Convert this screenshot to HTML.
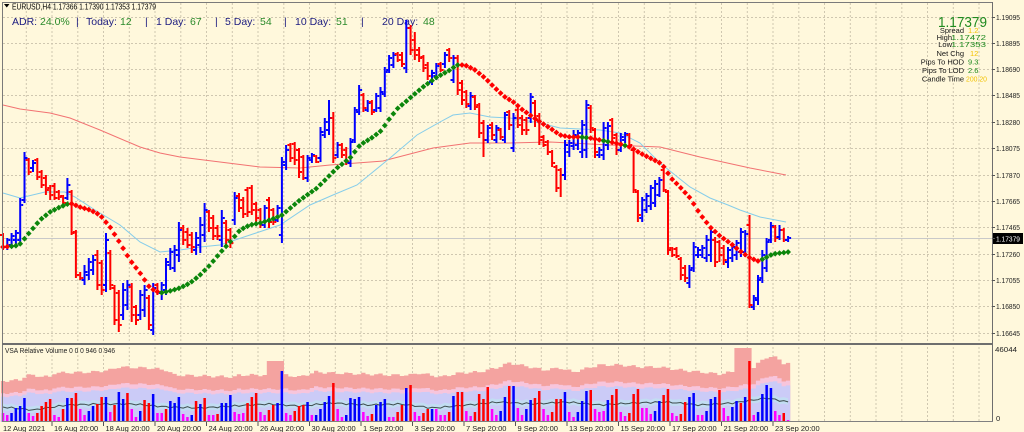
<!DOCTYPE html>
<html><head><meta charset="utf-8">
<style>
html,body{margin:0;padding:0;background:#FFF8DC;width:1024px;height:432px;overflow:hidden;}
svg{display:block;font-family:"Liberation Sans",Arial,sans-serif;}
</style></head>
<body>
<svg id="c" width="1024" height="432" viewBox="0 0 1024 432">
<rect x="0" y="0" width="1024" height="432" fill="#FFF8DC"/>
<g id="grid"></g>
<g id="vol"></g>
<line x1="3" y1="238.5" x2="992" y2="238.5" stroke="#C9C9C9" stroke-width="1"/>
<g id="mas"></g>

<!-- header text -->
<polygon points="4,4 9.5,4 6.75,7.5" fill="#000"/>
<text x="12" y="9.5" font-size="8" fill="#000" textLength="144" lengthAdjust="spacingAndGlyphs">EURUSD,H4  1.17366 1.17390 1.17353 1.17379</text>
<g font-size="10.5">
<text x="12" y="25" fill="#1c1c80">ADR:</text>
<text x="40" y="25" fill="#2a8a2a">24.0%</text>
<text x="76" y="25" fill="#1c1c80">|</text>
<text x="86" y="25" fill="#1c1c80">Today:</text>
<text x="120" y="25" fill="#2a8a2a">12</text>
<text x="145" y="25" fill="#1c1c80">|</text>
<text x="156" y="25" fill="#1c1c80">1 Day:</text>
<text x="190" y="25" fill="#2a8a2a">67</text>
<text x="215" y="25" fill="#1c1c80">|</text>
<text x="225" y="25" fill="#1c1c80">5 Day:</text>
<text x="260" y="25" fill="#2a8a2a">54</text>
<text x="284" y="25" fill="#1c1c80">|</text>
<text x="295" y="25" fill="#1c1c80">10 Day:</text>
<text x="336" y="25" fill="#2a8a2a">51</text>
<text x="361" y="25" fill="#1c1c80">|</text>
<text x="382" y="25" fill="#1c1c80">20 Day:</text>
<text x="423" y="25" fill="#2a8a2a">48</text>
</g>

<!-- info panel -->
<text x="938" y="27" font-size="15" fill="#1f8a1f" textLength="49" lengthAdjust="spacingAndGlyphs">1.17379</text>
<g font-size="7.5" fill="#151515" text-anchor="end">
<text x="964" y="33">Spread</text>
<text x="952" y="40">High</text>
<text x="952" y="47">Low</text>
<text x="964" y="56">Net Chg</text>
<text x="964" y="64.5">Pips To HOD</text>
<text x="964" y="73">Pips To LOD</text>
<text x="964" y="81.5">Candle Time</text>
</g>
<g font-size="7.5">
<text x="968" y="33" fill="#f2c200">1.2</text>
<text x="951" y="40" fill="#1f8a1f" textLength="35" lengthAdjust="spacingAndGlyphs">1.17472</text>
<text x="951" y="47" fill="#1f8a1f" textLength="35" lengthAdjust="spacingAndGlyphs">1.17353</text>
<text x="970" y="56" fill="#f2c200">12</text>
<text x="968" y="64.5" fill="#1f8a1f">9.3</text>
<text x="968" y="73" fill="#1f8a1f">2.6</text>
<text x="966" y="81.5" fill="#f2c200" textLength="21" lengthAdjust="spacingAndGlyphs">200:20</text>
</g>

<g id="bars"></g>
<g id="dots"></g>

<!-- frame -->
<line x1="2.5" y1="2" x2="2.5" y2="422" stroke="#7a7a7a"/>
<line x1="2" y1="2.5" x2="993" y2="2.5" stroke="#7a7a7a"/>
<line x1="992.5" y1="2" x2="992.5" y2="422" stroke="#6e6e6e"/>
<line x1="2" y1="421.5" x2="993" y2="421.5" stroke="#808080"/>
<rect x="2" y="343" width="991" height="2" fill="#6e6e6e"/>

<!-- price axis -->
<g font-size="7.5" fill="#222">
<text x="996" y="20.2" textLength="24" lengthAdjust="spacingAndGlyphs">1.19095</text>
<text x="996" y="46.2" textLength="24" lengthAdjust="spacingAndGlyphs">1.18895</text>
<text x="996" y="72.2" textLength="24" lengthAdjust="spacingAndGlyphs">1.18690</text>
<text x="996" y="98.2" textLength="24" lengthAdjust="spacingAndGlyphs">1.18485</text>
<text x="996" y="125.2" textLength="24" lengthAdjust="spacingAndGlyphs">1.18280</text>
<text x="996" y="151.2" textLength="24" lengthAdjust="spacingAndGlyphs">1.18075</text>
<text x="996" y="178.2" textLength="24" lengthAdjust="spacingAndGlyphs">1.17870</text>
<text x="996" y="204.2" textLength="24" lengthAdjust="spacingAndGlyphs">1.17665</text>
<text x="996" y="230.2" textLength="24" lengthAdjust="spacingAndGlyphs">1.17465</text>
<text x="996" y="257.2" textLength="24" lengthAdjust="spacingAndGlyphs">1.17260</text>
<text x="996" y="283.2" textLength="24" lengthAdjust="spacingAndGlyphs">1.17055</text>
<text x="996" y="309.2" textLength="24" lengthAdjust="spacingAndGlyphs">1.16850</text>
<text x="996" y="336.2" textLength="24" lengthAdjust="spacingAndGlyphs">1.16645</text>
<text x="995" y="352" textLength="22" lengthAdjust="spacingAndGlyphs">46044</text>
<text x="996" y="421">0</text>
</g>
<rect x="993" y="233" width="30" height="11" fill="#000"/>
<text x="996" y="241.6" font-size="7.5" fill="#fff" textLength="24" lengthAdjust="spacingAndGlyphs">1.17379</text>

<text x="5" y="353" font-size="7.5" fill="#222" textLength="110" lengthAdjust="spacingAndGlyphs">VSA Relative Volume 0 0 0 946 0 946</text>

<!-- time axis -->
<g font-size="7.5" fill="#222">
<text x="3" y="431">12 Aug 2021</text>
<text x="54" y="431">16 Aug 20:00</text>
<text x="105.5" y="431">18 Aug 20:00</text>
<text x="157" y="431">20 Aug 20:00</text>
<text x="208.5" y="431">24 Aug 20:00</text>
<text x="260" y="431">26 Aug 20:00</text>
<text x="311.5" y="431">30 Aug 20:00</text>
<text x="363" y="431">1 Sep 20:00</text>
<text x="414.5" y="431">3 Sep 20:00</text>
<text x="466" y="431">7 Sep 20:00</text>
<text x="517.5" y="431">9 Sep 20:00</text>
<text x="569" y="431">13 Sep 20:00</text>
<text x="620.5" y="431">15 Sep 20:00</text>
<text x="672" y="431">17 Sep 20:00</text>
<text x="723.5" y="431">21 Sep 20:00</text>
<text x="775" y="431">23 Sep 20:00</text>
</g>
<g id="ticks"></g>
</svg>
<script>
(function(){
var B=[[233,250,235,247],[238,250,247,240],[233,248,245,236],[230,245,240,233],[198,245,240,205],[152,203,200,158],[158,175,160,172],[160,172,168,163],[158,180,160,177],[170,188,172,185],
[175,195,178,190],[185,200,188,195],[183,200,186,198],[190,200,192,197],[195,205,196,203],[178,200,198,185],[190,235,192,233],[230,278,232,275],[272,280,275,278],[265,285,280,272],
[258,280,275,262],[255,275,270,260],[250,290,255,285],[260,295,263,290],[233,292,285,240],[250,290,253,285],[285,325,288,320],[290,332,293,325],[283,320,315,290],[280,310,305,285],
[283,322,287,315],[305,325,307,320],[290,320,315,295],[285,317,310,290],[295,330,298,325],[283,335,330,288],[283,295,285,292],[282,300,293,285],[258,295,290,262],[248,270,265,252],
[245,272,268,250],[222,262,255,230],[225,245,228,240],[228,248,232,245],[232,253,235,247],[232,255,250,238],[217,253,245,225],[203,242,235,210],[210,232,212,228],[215,240,218,236],
[225,240,228,236],[210,247,240,218],[220,245,223,240],[228,248,230,243],[192,225,220,198],[193,212,196,208],[197,218,200,214],[187,217,190,212],[185,215,188,210],[202,222,204,218],
[208,228,210,225],[205,228,225,208],[197,228,200,222],[208,225,210,222],[205,222,220,208],[157,243,235,162],[145,170,165,150],[143,162,145,158],[142,165,144,160],[148,178,150,172],
[155,180,157,178],[155,182,178,158],[153,163,160,155],[155,163,156,162],[127,162,158,132],[118,138,135,122],[100,135,130,118],[112,163,118,158],[142,158,155,145],[143,158,145,155],
[147,165,150,162],[138,167,163,142],[107,143,140,110],[85,115,112,90],[93,112,95,108],[100,112,110,103],[100,115,102,112],[93,112,110,96],[87,112,108,92],[67,97,94,72],
[55,73,70,58],[52,68,65,55],[52,62,54,60],[52,67,55,64],[20,73,68,28],[25,55,28,50],[32,60,40,55],[47,62,50,58],[55,72,57,68],[62,80,65,76],
[70,85,82,73],[63,80,76,66],[62,72,64,70],[52,68,64,55],[48,62,50,58],[55,83,80,58],[55,95,58,90],[80,105,83,100],[90,108,92,104],[92,110,106,96],
[95,110,97,107],[103,138,105,133],[120,157,123,140],[125,143,140,128],[122,140,125,135],[125,143,140,128],[128,140,130,137],[112,143,140,115],[110,130,112,125],[113,152,148,118],
[108,128,110,125],[115,135,118,130],[117,135,120,130],[93,123,118,97],[100,127,103,120],[113,145,116,140],[135,147,137,145],[140,155,142,152],[150,167,152,163],[165,192,167,188],
[168,197,170,175],[140,180,175,145],[140,157,152,143],[130,150,146,135],[130,150,145,133],[120,158,152,125],[100,158,150,105],[105,133,108,128],[128,158,130,152],[147,158,155,150],
[122,160,155,128],[122,150,145,126],[118,142,120,138],[133,155,135,150],[133,152,150,137],[132,143,140,134],[133,148,135,145],[148,193,150,190],[190,222,192,215],[197,222,218,200],
[193,213,210,196],[185,210,206,188],[180,207,203,184],[177,197,195,180],[167,192,170,190],[190,255,192,250],[247,257,248,255],[247,258,249,256],[257,280,259,275],[265,282,268,278],
[265,288,283,270],[242,272,268,247],[247,258,255,250],[245,258,255,248],[235,262,258,240],[227,262,255,232],[237,267,240,262],[240,262,242,255],[245,265,248,260],[247,268,262,250],
[243,262,258,247],[240,260,255,243],[228,257,252,232],[230,257,252,234],[215,308,225,305],[295,310,307,298],[275,305,300,280],[250,283,278,255],[238,272,268,242],[222,243,240,226],
[225,242,227,238],[225,240,237,230],[228,242,230,240],[236,242,240,238]];
var VS="413m 415m 413b 408b 406b 398b 413m 416m 413r 406r 402r 399r 415m 417m 409r 398b 398r 393r 409m 415m 411b 406b 404r 397r 397b 412m 405r 392b 399b 393r 409m 417m 411b 400r 403r 394b 413m 413m 409r 401b 403b 397b 414m 417m 415b 401r 404b 398r 415m 415m 414r 403b 403b 395b 412m 414m 413m 403r 397r 393r 412m 415m 410r 405r 403b 371b 413m 415m 411r 406r 405r 402b 415m 415b 409b 402b 396b 383r 409m 417m 415b 398b 399b 397b 412m 416m 414r 405b 402b 399b 417m 417m 412r 405r 388b 385r 412m 416m 413r 409r 409b 409m 415m 415m 412r 396b 392r 392r 411m 416m 412r 394r 399r 387r 409m 415m 411b 397b 386r 386b 408m 415m 409b 400b 398r 391r 409m 415m 412r 399r 399r 392b 412m 417m 412b 401b 391b 390r 409m 412m 411m 400b 395r 389r 412m 416m 413r 394r 389r 408m 408m 414m 411b 401b 395r 389r 413m 416m 414r 402r 397b 393b 415m 415m 411b 399b 397b 390r 408m 416m 407b 401b 403r 397b 361r 415m 412b 394b 385b 388b 411m 415m 413r 420m";
var V=VS.split(' ');
function X(n){return 3+n*4.29;}
function ip(p,x){
  for(var i=0;i<p.length-1;i++){
    if(x<=p[i+1][0]||i==p.length-2){
      var a=p[i],b=p[i+1];return a[1]+(b[1]-a[1])*(x-a[0])/(b[0]-a[0]);
    }
  }
  return p[p.length-1][1];
}
function f(v){return (Math.round(v*10)/10).toString();}

/* grid */
var g='';
for(var k=1;k<=38;k++){var gx=f(k*25.75+0.5);g+='<line x1="'+gx+'" y1="3" x2="'+gx+'" y2="421" stroke="#CFC7B0" stroke-width="1" stroke-dasharray="2,2"/>';}
var hy=[17.5,43.5,69.5,95.5,122.5,148.5,175.5,201.5,227.5,254.5,280.5,306.5,333.5];
for(var i=0;i<hy.length;i++){g+='<line x1="3" y1="'+hy[i]+'" x2="992" y2="'+hy[i]+'" stroke="#CFC7B0" stroke-width="1" stroke-dasharray="2,2"/>';}
document.getElementById('grid').innerHTML=g;

/* ticks */
var t='';
for(var i=0;i<hy.length;i++){t+='<line x1="992" y1="'+hy[i]+'" x2="995" y2="'+hy[i]+'" stroke="#555"/>';}
t+='<line x1="992" y1="238.5" x2="995" y2="238.5" stroke="#555"/>';
for(var k=1;k<=15;k++){var tx=f(k*51.5+0.5);t+='<line x1="'+tx+'" y1="422" x2="'+tx+'" y2="426" stroke="#555"/>';}
document.getElementById('ticks').innerHTML=t;

/* volume panel */
var SP=[[0,381],[4,380],[5.6,375],[11,377],[12,373],[21,372],[25,370],[27,367],[34,368],[38,370],[40,375],[54,377],[55,375],[61,375],[66,375],[69,377],[73,372],[77,373],[84,374],[90,375],[95,375],[97,373],[102,377],[106.5,373],[111,372],[115,368],[118,363],[123,367],[126,370],[130,368],[133,372],[139,365],[144,365],[148.5,367],[153,367],[158,370],[162.5,372],[167,374],[170,372],[175,367],[176.5,362],[178.5,356],[180.5,358],[182,363],[183,363]];
var DL=[[3,407],[33,410],[67,405],[100,404],[133,404],[167,407],[200,408],[233,406],[267,404],[300,406],[333,403],[367,405],[400,404],[433,408],[467,405],[500,402],[533,404],[567,402],[600,405],[633,403],[667,402],[700,405],[733,403],[767,398],[788,402]];
var N=B.length;
var x0=f(X(0)-2.15), xe=f(X(N-1)+2.15);
var sal='M'+x0+' 422', pk='M'+x0+' 422', lv='M'+x0+' 422';
var lbT=[], lbB=[], ln=[];
for(var n=0;n<N;n++){
  var s=ip(SP,n)+1.2*Math.sin(n*1.7);
  var tt=s;
  if(n>=62&&n<=65)tt=361;
  if(n>=171&&n<=174)tt=348;
  var xl=f(X(n)-2.15), xr=f(X(n)+2.15);
  sal+=' L'+xl+' '+f(tt)+' L'+xr+' '+f(tt);
  var p=422-(422-s)*0.70, l=422-(422-s)*0.62;
  pk+=' L'+xl+' '+f(p)+' L'+xr+' '+f(p);
  lv+=' L'+xl+' '+f(l)+' L'+xr+' '+f(l);
  var L=ip(DL,X(n))+0.9*Math.sin(n*2.3);
  ln.push(f(X(n))+','+f(L));
  lbT.push(f(X(n))+','+f(L-3.5));
  lbB.unshift(f(X(n))+','+f(L+3));
}
sal+=' L'+xe+' 422 Z'; pk+=' L'+xe+' 422 Z'; lv+=' L'+xe+' 422 Z';
var v='';
v+='<path d="'+sal+'" fill="#F4A3A0"/>';
v+='<path d="'+pk+'" fill="#F7C5DC"/>';
v+='<path d="'+lv+'" fill="#CBCBF7"/>';
v+='<polygon points="'+lbT.join(' ')+' '+lbB.join(' ')+'" fill="#C2DDF2"/>';
v+='<polyline points="'+ln.join(' ')+'" fill="none" stroke="#3d4d4d" stroke-width="1"/>';
var col={m:'#FF00FF',b:'#0000FF',r:'#FF0000'};
for(var n=0;n<N;n++){
  var tok=V[n];var top=parseFloat(tok);var c=col[tok.charAt(tok.length-1)];
  v+='<rect x="'+f(X(n)-1.25)+'" y="'+top+'" width="2.5" height="'+f(422-top)+'" fill="'+c+'"/>';
}
document.getElementById('vol').innerHTML=v;

/* moving averages */
var LB=[[3,193],[20,198],[45,192],[65,192],[75,197],[95,210],[120,225],[140,242],[160,252],[180,250],[200,247],[220,245],[250,235],[280,225],[310,205],[333,195],[357,185],[390,158],[417,135],[440,122],[453,115],[470,113],[490,117],[510,118],[540,123],[560,128],[600,130],[620,133],[640,143],[660,163],[690,187],[710,198],[728,205],[740,210],[760,217],[786,222]];
var RM=[[3,105],[20,109],[50,113],[70,118],[100,130],[140,147],[160,153],[180,157],[220,162],[260,167],[300,168],[330,165],[383,161],[433,148],[470,143],[510,143],[550,142],[610,145],[660,147],[700,157],[750,168],[786,175]];
function pts(a){var r=[];for(var i=0;i<a.length;i++)r.push(a[i][0]+','+a[i][1]);return r.join(' ');}
document.getElementById('mas').innerHTML=
 '<polyline points="'+pts(RM)+'" fill="none" stroke="#F27272" stroke-width="1"/>'+
 '<polyline points="'+pts(LB)+'" fill="none" stroke="#86CDEA" stroke-width="1"/>';

/* OHLC bars */
var b='';
for(var n=0;n<N;n++){
  var d=B[n],x=X(n),up=d[3]<d[2];var c=up?'#0000FF':'#FF0000';
  b+='<rect x="'+f(x-1)+'" y="'+d[0]+'" width="2" height="'+(d[1]-d[0])+'" fill="'+c+'"/>';
  b+='<rect x="'+f(x-3)+'" y="'+(d[2]-1)+'" width="2" height="2" fill="'+c+'"/>';
  b+='<rect x="'+f(x+1)+'" y="'+(d[3]-1)+'" width="2" height="2" fill="'+c+'"/>';
}
document.getElementById('bars').innerHTML=b;

/* dotted trend line */
var DP=[[3,247],[15,246],[20,244],[30,232],[40,220],[50,212],[60,207],[70,203],[80,207],[90,210],[100,215],[110,227],[120,243],[130,260],[140,273],[150,288],[160,293],[170,291],[180,288],[190,283],[200,275],[210,265],[220,253],[230,242],[240,230],[250,225],[260,223],[270,220],[282,215],[300,200],[317,188],[327,178],[337,168],[350,158],[360,145],[373,137],[382,130],[387,122],[397,109],[410,98],[423,87],[437,77],[450,70],[457,65],[465,65],[475,70],[485,78],[495,88],[505,97],[515,103],[520,108],[530,115],[540,122],[550,128],[560,135],[570,137],[580,137],[590,138],[600,140],[610,142],[620,144],[630,147],[640,153],[650,158],[660,163],[665,168],[670,177],[680,187],[690,198],[700,214],[710,227],[720,236],[730,243],[740,251],[750,258],[758,261],[763,259],[773,254],[788,252]];
var dd='';var r=2.9;
for(var n=0;n<N;n++){
  var x=X(n),y=ip(DP,x);
  var green;
  if(x<10)green=false;else if(x<71)green=true;else if(x<159)green=false;else if(x<461)green=true;else if(x<761){green=(x>=579&&x<=588)||(x>=603&&x<=609)||(x>=621&&x<=627);}else green=true;
  var c=green?'#0B860B':'#FF0000';
  dd+='<polygon points="'+f(x)+','+f(y-r)+' '+f(x+r)+','+f(y)+' '+f(x)+','+f(y+r)+' '+f(x-r)+','+f(y)+'" fill="'+c+'"/>';
}
document.getElementById('dots').innerHTML=dd;
})();
</script>
</body></html>
